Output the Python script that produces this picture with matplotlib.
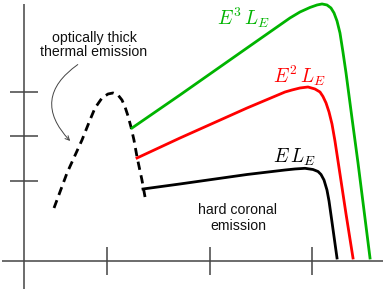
import matplotlib
matplotlib.use("Agg")
import matplotlib.pyplot as plt
from matplotlib.patches import FancyArrowPatch

plt.rcParams['mathtext.fontset'] = 'cm'
plt.rcParams['font.family'] = ['Liberation Sans', 'DejaVu Sans']

# ---- data (log E, log flux; arbitrary units) ----
thermal_x = [0.483, 0.610, 0.756, 0.834, 0.883, 0.951, 1.010, 1.059, 1.107,
             1.146, 1.176, 1.205, 1.234, 1.263, 1.293, 1.341, 1.371]
thermal_y = [1.393, 2.180, 2.921, 3.371, 3.640, 3.865, 3.955, 3.978, 3.933,
             3.820, 3.663, 3.461, 3.213, 2.921, 2.539, 2.022, 1.640]

e3_x = [1.244, 1.712, 2.366, 2.785, 2.883, 2.980, 3.049, 3.098, 3.146, 3.185,
        3.215, 3.244, 3.273, 3.302, 3.332, 3.390, 3.449, 3.507, 3.566]
e3_y = [3.191, 3.933, 4.989, 5.663, 5.798, 5.899, 5.955, 5.978, 5.955, 5.888,
        5.775, 5.596, 5.326, 4.899, 4.427, 3.416, 2.404, 1.348, 0.270]

e2_x = [1.293, 1.712, 2.366, 2.737, 2.805, 2.883, 2.961, 3.029, 3.078, 3.107,
        3.137, 3.166, 3.195, 3.224, 3.273, 3.332, 3.400]
e2_y = [2.517, 2.966, 3.640, 4.000, 4.045, 4.090, 4.112, 4.067, 4.000, 3.899,
        3.753, 3.551, 3.281, 2.899, 2.157, 1.258, 0.270]

e1_x = [1.351, 1.712, 2.366, 2.737, 2.834, 2.932, 3.010, 3.059, 3.088, 3.117,
        3.146, 3.166, 3.195, 3.244]
e1_y = [1.820, 1.933, 2.146, 2.247, 2.270, 2.285, 2.258, 2.213, 2.146, 2.022,
        1.798, 1.551, 1.079, 0.270]

x_ticks = [1, 2, 3]
y_ticks = [2, 3, 4]
axis_origin = (0.19, 0.2)

labels = {
    'e3': r'$E^3\,L_E$',
    'e2': r'$E^2\,L_E$',
    'e1': r'$E\,L_E$',
}

# ---- figure ----
fig = plt.figure(figsize=(3.86, 2.91), dpi=100)
ax = fig.add_axes([0, 0, 1, 1])
ax.set_xlim(-0.044, 3.722)
ax.set_ylim(-0.472, 6.067)
ax.axis('off')

axc = '#444444'
ox, oy = axis_origin
ax.plot([ox, ox], [-0.43, 5.98], color=axc, lw=1.1, solid_capstyle='butt')
ax.plot([-0.024, 3.69], [oy, oy], color=axc, lw=1.1, solid_capstyle='butt')
for t in y_ticks:
    ax.plot([0.054, 0.327], [t, t], color=axc, lw=1.1, solid_capstyle='butt')
for t in x_ticks:
    ax.plot([t, t], [-0.112, 0.517], color=axc, lw=1.1, solid_capstyle='butt')

ax.plot(thermal_x, thermal_y, color='black', lw=2.0, dashes=(3, 2),
        dash_capstyle='butt', dash_joinstyle='round')
ax.plot(e3_x, e3_y, color='#00b400', lw=2.0, solid_joinstyle='round')
ax.plot(e2_x, e2_y, color='#ff0000', lw=2.0, solid_joinstyle='round')
ax.plot(e1_x, e1_y, color='black', lw=2.0, solid_joinstyle='round')

ax.text(2.337, 5.663, labels['e3'], color='#00b400', fontsize=14,
        ha='center', va='center')
ax.text(2.883, 4.36, labels['e2'], color='#ff0000', fontsize=14,
        ha='center', va='center')
ax.text(2.824, 2.54, labels['e1'], color='black', fontsize=14,
        ha='center', va='center')

ax.text(0.873, 5.056, 'optically thick\nthermal emission', fontsize=10.2,
        ha='center', va='center', linespacing=1.05, color='#111111')
ax.text(2.278, 1.169, 'hard coronal\nemission', fontsize=10.2,
        ha='center', va='center', linespacing=1.1, color='#111111')

arrow = FancyArrowPatch((0.737, 4.652), (0.659, 2.854),
                        connectionstyle='arc3,rad=0.6',
                        arrowstyle='->,head_length=3,head_width=1.5',
                        color='#444444', lw=0.7)
ax.add_patch(arrow)

fig.savefig('out.png', dpi=100)
